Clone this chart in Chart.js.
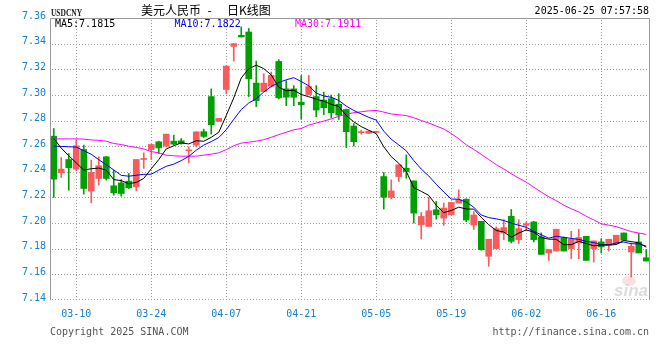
<!DOCTYPE html>
<html><head><meta charset="utf-8">
<script src="https://cdn.jsdelivr.net/npm/chart.js@4"></script>
<style>html,body{margin:0;padding:0;background:#fff}#wrap{width:660px;height:360px;position:relative}</style>
</head><body><div id="wrap"><canvas id="c" width="660" height="360"></canvas></div>
<script>
// ---- data ----
const dates = ['03-05','03-06','03-07','03-10','03-11','03-12','03-13','03-14','03-17','03-18','03-19','03-20','03-21','03-24','03-25','03-26','03-27','03-28','03-31',
'04-01','04-02','04-03','04-04','04-07','04-08','04-09','04-10','04-11','04-14','04-15','04-16','04-17','04-18','04-21','04-22','04-23','04-24','04-25','04-28','04-29','04-30',
'05-01','05-02','05-05','05-06','05-07','05-08','05-09','05-12','05-13','05-14','05-15','05-16','05-19','05-20','05-21','05-22','05-23','05-26','05-27','05-28','05-29','05-30',
'06-02','06-03','06-04','06-05','06-06','06-09','06-10','06-11','06-12','06-13','06-16','06-17','06-18','06-19','06-20','06-23','06-24'];
const tickLabels = ['03-10','03-24','04-07','04-21','05-05','05-19','06-02','06-16'];

const opens = [7.2678,7.2392,7.2496,7.2421,7.2574,7.2249,7.2348,7.2517,7.2291,7.2314,
7.2327,7.2283,7.2496,7.2574,7.2634,7.2600,7.2639,7.2642,7.2564,7.2608,
7.2713,7.2987,7.2794,7.3042,7.3379,7.3465,7.3491,7.3092,7.3026,7.3068,
7.3261,7.3047,7.3047,7.2943,7.3003,7.2987,7.2960,7.2970,7.2927,7.2886,
7.2757,7.2705,7.2700,7.2707,7.2363,7.2200,7.2363,7.2428,7.2329,7.1987,
7.1974,7.2104,7.2039,7.2065,7.2156,7.2187,7.1985,7.2014,7.1741,7.1801,
7.1923,7.2053,7.1871,7.1983,7.2009,7.1892,7.1767,7.1782,7.1887,7.1801,
7.1845,7.1897,7.1801,7.1853,7.1827,7.1840,7.1923,7.1775,7.1853,7.1730];
const highs = [7.2738,7.2512,7.2543,7.2650,7.2608,7.2491,7.2517,7.2520,7.2413,7.2340,
7.2387,7.2496,7.2548,7.2613,7.2639,7.2694,7.2686,7.2660,7.2595,7.2712,
7.2733,7.3047,7.2817,7.3225,7.3400,7.3531,7.3518,7.3264,7.3165,7.3178,
7.3275,7.3112,7.3073,7.3152,7.3152,7.3073,7.3022,7.3000,7.3010,7.2890,
7.2777,7.2725,7.2718,7.2712,7.2394,7.2337,7.2454,7.2531,7.2329,7.2083,
7.2202,7.2169,7.2156,7.2161,7.2259,7.2189,7.2089,7.2014,7.1874,7.1970,
7.2027,7.2106,7.2027,7.2009,7.2014,7.1923,7.1793,7.1952,7.1892,7.1936,
7.1952,7.1897,7.1861,7.1879,7.1874,7.1905,7.1923,7.1845,7.1918,7.1793];
const lows = [7.2200,7.2356,7.2257,7.2408,7.2226,7.2158,7.2296,7.2335,7.2218,7.2210,
7.2270,7.2252,7.2426,7.2496,7.2543,7.2600,7.2608,7.2616,7.2470,7.2595,
7.2668,7.2694,7.2794,7.3008,7.3264,7.3452,7.2987,7.2909,7.3026,7.3060,
7.2969,7.2916,7.2916,7.2812,7.3003,7.2830,7.2846,7.2820,7.2808,7.2588,
7.2601,7.2694,7.2700,7.2705,7.2109,7.2189,7.2324,7.2350,7.2000,7.1876,
7.1974,7.2031,7.1982,7.2065,7.2156,7.2011,7.1950,7.1788,7.1663,7.1801,
7.1871,7.1845,7.1840,7.1939,7.1853,7.1756,7.1709,7.1782,7.1782,7.1722,
7.1722,7.1709,7.1696,7.1767,7.1782,7.1840,7.1866,7.1579,7.1767,7.1704];
const closes = [7.2343,7.2421,7.2431,7.2603,7.2270,7.2395,7.2447,7.2348,7.2236,7.2231,
7.2275,7.2496,7.2504,7.2613,7.2587,7.2694,7.2616,7.2621,7.2569,7.2712,
7.2676,7.2767,7.2817,7.3225,7.3400,7.3452,7.3126,7.2956,7.3092,7.3152,
7.2977,7.2982,7.2982,7.2924,7.3065,7.2882,7.2900,7.2860,7.2842,7.2713,
7.2635,7.2713,7.2718,7.2709,7.2202,7.2251,7.2454,7.2402,7.2078,7.2052,
7.2096,7.2065,7.2117,7.2161,7.2182,7.2024,7.2063,7.1793,7.1874,7.1957,
7.1965,7.1858,7.1957,7.1996,7.1871,7.1756,7.1793,7.1952,7.1782,7.1874,
7.1887,7.1709,7.1861,7.1814,7.1874,7.1905,7.1866,7.1819,7.1767,7.1704];

const ma5Start = [7.2660,7.2585,7.2525,7.2470];
const ma10Start = [7.2600,7.2598,7.2596,7.2593,7.2565,7.2537,7.2495,7.2455,7.2415];
const ma30Start = [7.2657,7.2657,7.2657,7.2657,7.2655,7.2649,7.2645,7.2639,7.2621,7.2613,
7.2600,7.2590,7.2579,7.2558,7.2548,7.2530,7.2525,7.2522,7.2522,7.2522,
7.2530,7.2538,7.2548,7.2573,7.2604,7.2624,7.2631,7.2639,7.2651];
const legendText = ['MA5:7.1815','MA10:7.1822','MA30:7.1911'];
const yMin = 7.14, yMax = 7.36, yStep = 0.02;

// ---- derived ----
function movingAverage(n, start){
  return closes.map((c,i)=>{
    if(i < start.length) return start[i];
    let s = 0; for(let k=i-n+1;k<=i;k++) s += closes[k];
    return s/n;
  });
}
const ma5 = movingAverage(5, ma5Start);
const ma10 = movingAverage(10, ma10Start);
const ma30 = movingAverage(30, ma30Start);

const RED = '#f75b5b', GREEN = '#00a000', BLUE = '#1580d0', GRID = '#9a9a9a', AXIS = '#999999';
const MONO = "'DejaVu Sans Mono', monospace";
const isUp = i => closes[i] >= opens[i];
const candleColor = c => isUp(c.dataIndex) ? RED : GREEN;

// dotted grid drawn at the scales' own tick positions
const gridPlugin = {
  id: 'dotgrid',
  beforeDatasetsDraw(chart){
    const ctx = chart.ctx, a = chart.chartArea;
    const xs = chart.scales.x, ys = chart.scales.y;
    ctx.save();
    ctx.fillStyle = GRID;
    const L = Math.round(a.left), R = Math.round(a.right), T = Math.round(a.top), B = Math.round(a.bottom);
    ys.ticks.forEach(t => {
      if (Math.abs(t.value - yMax) < 1e-6) return;
      const y = Math.min(Math.round(ys.getPixelForValue(t.value)), B - 1);
      for (let x = L + 2; x < R; x += 3) ctx.fillRect(x, y, 1, 1);
    });
    dates.forEach((d, i) => {
      if (!tickLabels.includes(d)) return;
      const x = Math.round(xs.getPixelForValue(i));
      for (let y = T + 2; y < B; y += 3) ctx.fillRect(x, y, 1, 1);
    });
    // watermark
    ctx.fillStyle = 'rgba(240,160,160,0.3)';
    ctx.beginPath(); ctx.ellipse(a.right-21, a.bottom-19, 7, 5, 0, 0, Math.PI*2); ctx.fill();
    ctx.fillStyle = 'rgba(185,185,185,0.5)';
    ctx.font = "italic bold 17px 'Liberation Sans', sans-serif";
    ctx.textAlign = 'right'; ctx.textBaseline = 'alphabetic';
    ctx.fillText('sina', a.right-2, a.bottom-4);
    ctx.restore();
  }
};

const framePlugin = {
  id: 'frame',
  afterDraw(chart){
    const ctx = chart.ctx, a = chart.chartArea;
    ctx.save();
    ctx.strokeStyle = AXIS; ctx.lineWidth = 1;
    const t = Math.round(a.top)+0.5, r = Math.round(a.right)-0.5, l = Math.round(a.left)+0.5;
    ctx.beginPath(); ctx.moveTo(l, Math.round(a.bottom)); ctx.lineTo(l, t); ctx.lineTo(r, t); ctx.lineTo(r, Math.round(a.bottom)); ctx.stroke();

    ctx.textBaseline = 'middle';
    ctx.fillStyle = '#222';
    ctx.font = "bold 10px 'Liberation Serif', serif";
    ctx.textAlign = 'left';
    ctx.fillText('USDCNY', 51, 13, 31);
    ctx.fillStyle = '#000';
    ctx.font = "12px 'Noto Sans CJK SC', sans-serif";
    ctx.fillText('美元人民币', 141, 10);
    ctx.fillText('-', 207.5, 10);
    ctx.fillText('日K线图', 227, 10);
    ctx.font = '10px ' + MONO;
    ctx.textAlign = 'right';
    ctx.fillText('2025-06-25 07:57:58', 649, 11.5);
    ctx.textAlign = 'left';
    ctx.fillStyle = '#000'; ctx.fillText(legendText[0], 55, 24);
    ctx.fillStyle = '#0000ff'; ctx.fillText(legendText[1], 174.5, 24);
    ctx.fillStyle = '#ff00ff'; ctx.fillText(legendText[2], 295, 24);
    ctx.fillStyle = '#555';
    ctx.fillText('Copyright 2025 SINA.COM', 50, 332.5);
    ctx.textAlign = 'right';
    ctx.fillText('http://finance.sina.com.cn', 649, 332.5);
    ctx.restore();
  }
};

const lineDs = (label, data, color) => ({type:'line', label, data, borderColor:color, borderWidth:1,
  pointRadius:0, tension:0, fill:false, order:0});

new Chart(document.getElementById('c'), {
  type: 'bar',
  data: {
    labels: dates,
    datasets: [
      lineDs('MA5', ma5, '#000000'),
      lineDs('MA10', ma10, '#0000ff'),
      lineDs('MA30', ma30, '#ff00ff'),
      {label:'body', data: opens.map((o,i)=>[o, closes[i]]), backgroundColor: candleColor,
       barThickness: 6, grouped:false, minBarLength:1, borderWidth:0, order:1},
      {label:'wick', data: lows.map((l,i)=>[l, highs[i]]), backgroundColor: candleColor,
       barThickness: 1, grouped:false, minBarLength:1, borderWidth:0, order:2}
    ]
  },
  options: {
    responsive:false, animation:false, events:[],
    layout: {padding:{top:18, right:10, bottom:38, left:0}},
    plugins: {legend:{display:false}, tooltip:{enabled:false}},
    scales: {
      x: {
        offset: true,
        grid: {display:true, drawOnChartArea:false, drawTicks:false, color:'rgba(0,0,0,0)'},
        border: {display:false},
        ticks: {autoSkip:false, maxRotation:0, minRotation:0, padding:8, color:BLUE,
          font:{family:MONO, size:10},
          callback: (v,i) => tickLabels.includes(dates[i]) ? dates[i] : ''},
        afterFit: s => { s.height = 22; }
      },
      y: {
        min: yMin, max: yMax,
        grid: {display:true, drawOnChartArea:false, drawTicks:false, color:'rgba(0,0,0,0)'},
        border: {display:false},
        ticks: {stepSize:yStep, padding:4, color:BLUE, labelOffset:-2,
          font:{family:MONO, size:10},
          callback: v => Number(v).toFixed(2)},
        afterFit: s => { s.width = 50; }
      }
    }
  },
  plugins: [gridPlugin, framePlugin]
});
</script></body></html>
